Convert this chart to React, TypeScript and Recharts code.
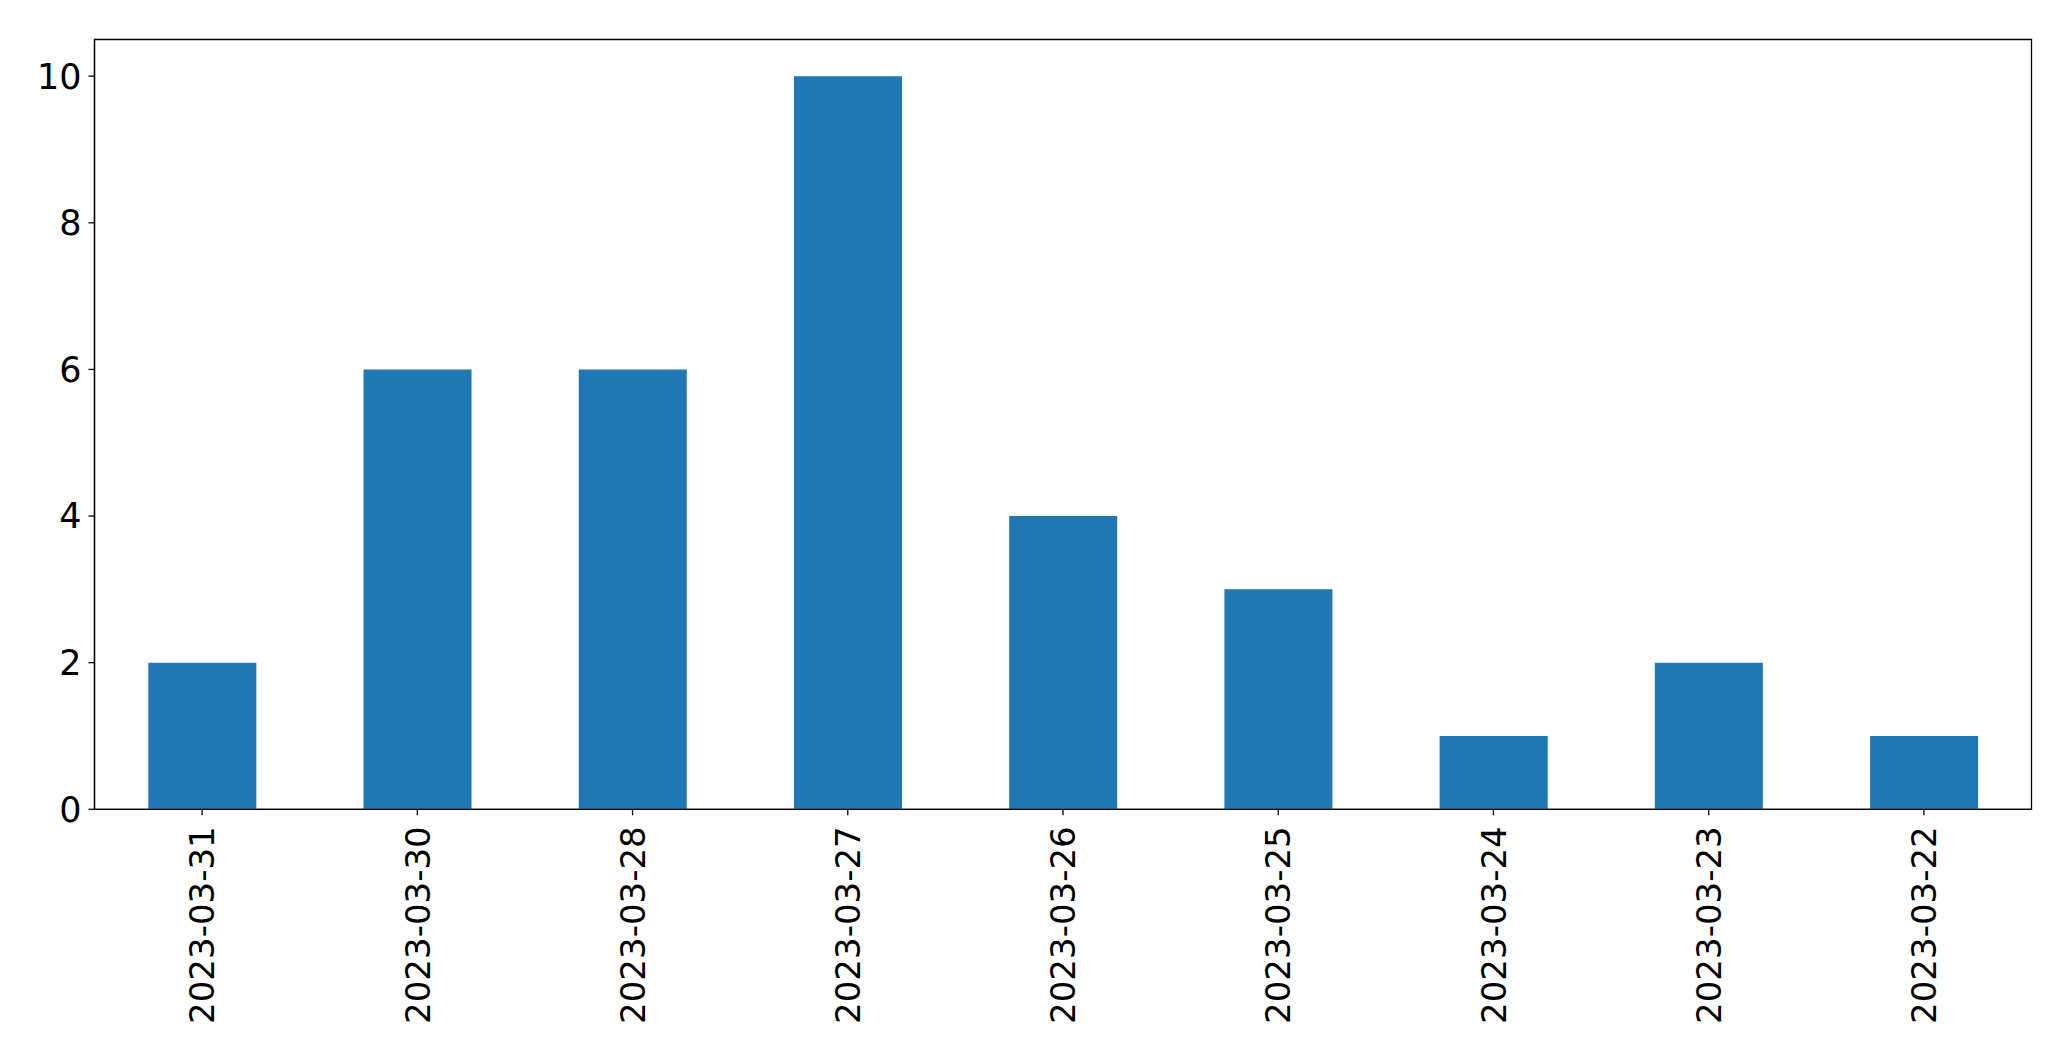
import { BarChart, Bar, XAxis, YAxis, ReferenceArea } from 'recharts';

const dates = [
  '2023-03-31',
  '2023-03-30',
  '2023-03-28',
  '2023-03-27',
  '2023-03-26',
  '2023-03-25',
  '2023-03-24',
  '2023-03-23',
  '2023-03-22',
];
const counts = [2, 6, 6, 10, 4, 3, 1, 2, 1];
const yTicks = [0, 2, 4, 6, 8, 10];
const yMax = 10.5;

const data = dates.map((date, i) => ({ date, count: counts[i] }));

const FONT = "'DejaVu Sans', sans-serif";

function DateTick(props: any) {
  const { x, y, payload } = props;
  return (
    <g transform={`translate(${x},${y})`}>
      <text
        transform="rotate(-90)"
        textAnchor="end"
        x={0}
        y={0}
        dy="0.36em"
        fontSize={34}
        fontFamily={FONT}
        fill="#000"
      >
        {payload.value}
      </text>
    </g>
  );
}

export default function App() {
  return (
    <div style={{ position: 'absolute', left: 0, top: 0, background: '#fff' }}>
      <BarChart
        width={2071}
        height={1061}
        data={data}
        margin={{ top: 39.5, right: 39.5, bottom: 0, left: 0 }}
        barCategoryGap="25%"
      >
        <XAxis
          dataKey="date"
          height={251.7}
          tick={<DateTick />}
          tickSize={6}
          tickMargin={11}
          interval={0}
          axisLine={{ stroke: '#000', strokeWidth: 1.3 }}
          tickLine={{ stroke: '#000', strokeWidth: 1.3 }}
        />
        <YAxis
          width={94.5}
          domain={[0, yMax]}
          ticks={yTicks}
          tickSize={6}
          tickMargin={7}
          interval={0}
          tick={{ fontSize: 35, fontFamily: FONT, fill: '#000' }}
          axisLine={{ stroke: '#000', strokeWidth: 1.3 }}
          tickLine={{ stroke: '#000', strokeWidth: 1.3 }}
        />
        <Bar dataKey="count" fill="#1f77b4" isAnimationActive={false} />
        <ReferenceArea
          y1={0}
          y2={yMax}
          fill="none"
          fillOpacity={0}
          stroke="#000"
          strokeWidth={1.3}
          ifOverflow="visible"
        />
      </BarChart>
    </div>
  );
}
